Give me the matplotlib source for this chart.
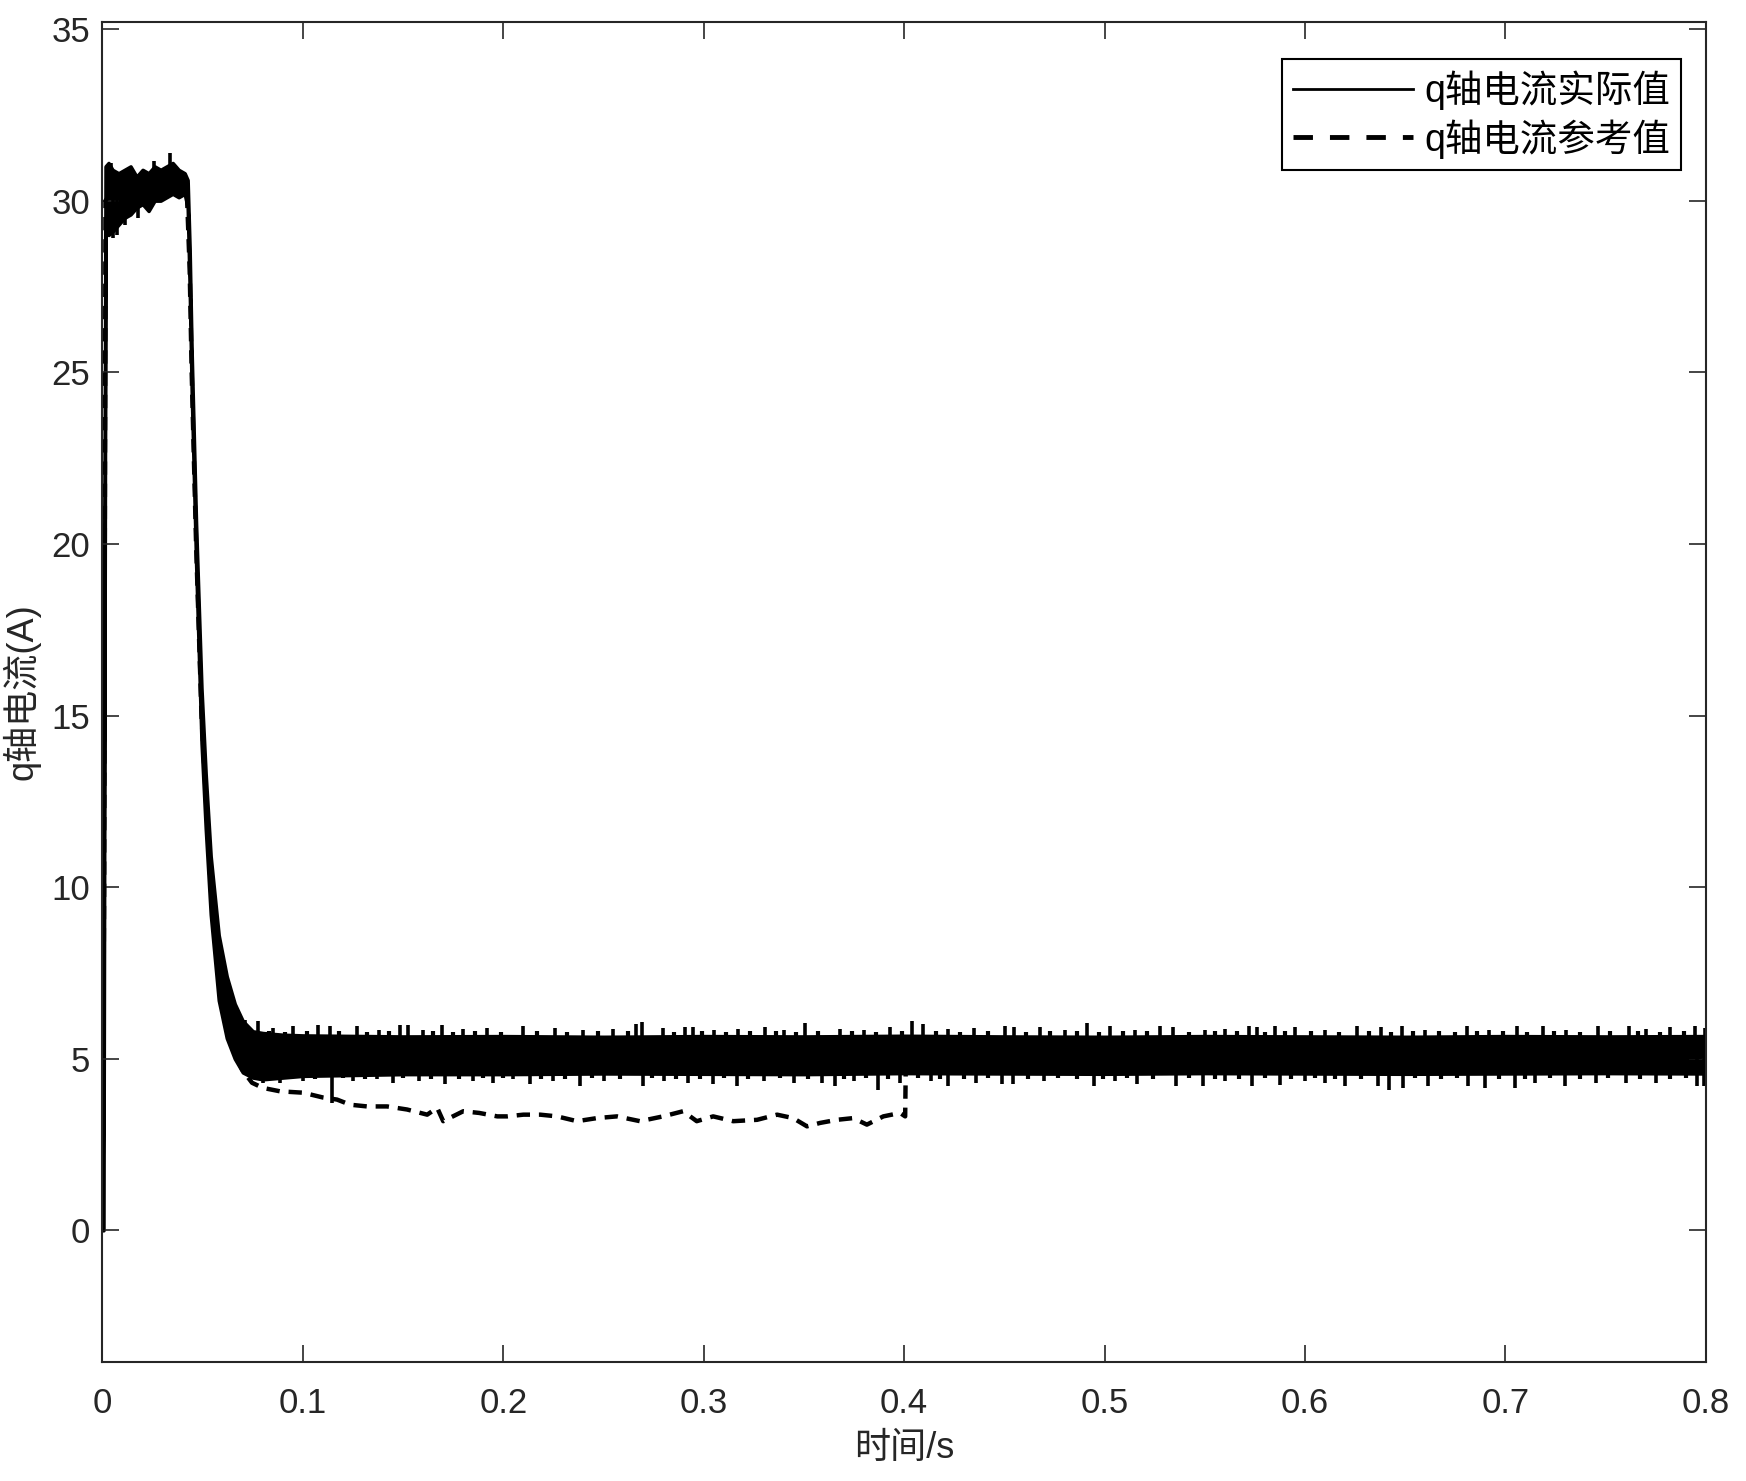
import matplotlib
matplotlib.use("Agg")
import matplotlib.pyplot as plt
import numpy as np
from matplotlib.lines import Line2D

plt.rcParams['font.family'] = ['Liberation Sans', 'Noto Sans CJK SC']

t_act = [0, 0.0005, 0.0015, 0.003, 0.005, 0.008, 0.011, 0.014, 0.017, 0.020,
         0.023, 0.026, 0.029, 0.032, 0.035, 0.038, 0.041, 0.0425, 0.0435,
         0.0445, 0.0467, 0.0494, 0.0515, 0.054, 0.058, 0.062, 0.066, 0.070,
         0.075, 0.080, 0.090, 0.10, 0.15, 0.20, 0.25, 0.30, 0.35, 0.40, 0.45,
         0.50, 0.55, 0.60, 0.65, 0.70, 0.75, 0.80]
i_act_hi = [0, 8, 31.0, 31.1, 30.9, 30.8, 30.9, 31.0, 30.7, 30.9,
            30.8, 31.0, 30.9, 31.0, 31.1, 30.9, 30.8, 30.6, 28.6,
            25.6, 20.6, 15.8, 13.3, 10.9, 8.6, 7.4, 6.6, 6.1,
            5.8, 5.75, 5.7, 5.68, 5.65, 5.66, 5.64, 5.66, 5.65, 5.67, 5.65,
            5.64, 5.66, 5.65, 5.64, 5.66, 5.65, 5.66]
i_act_lo = [0, 0, 29.5, 29.0, 29.1, 29.3, 29.5, 29.6, 29.8, 29.9,
            29.7, 30.0, 30.0, 30.1, 30.2, 30.1, 30.2, 29.8, 27.4,
            24.4, 19.4, 14.2, 11.7, 9.2, 6.7, 5.6, 5.0, 4.6,
            4.45, 4.4, 4.45, 4.5, 4.55, 4.55, 4.57, 4.56, 4.55, 4.58, 4.57,
            4.56, 4.58, 4.57, 4.56, 4.57, 4.58, 4.57]

# tall spikes sticking out of the actual-current band
spike_up_t = [0.004, 0.0255, 0.0337, 0.0711, 0.0776, 0.0850, 0.0950, 0.1076,
              0.1136, 0.127, 0.138, 0.1486, 0.1526, 0.160, 0.1695, 0.180,
              0.192, 0.2098, 0.2258, 0.240, 0.2546, 0.266, 0.269, 0.2797,
              0.2907, 0.2947, 0.305, 0.317, 0.3306, 0.340, 0.3506, 0.368,
              0.380, 0.393, 0.4038, 0.4095, 0.422, 0.435, 0.4503, 0.455,
              0.4676, 0.480, 0.491, 0.5026, 0.515, 0.5276, 0.534, 0.550,
              0.560, 0.5719, 0.576, 0.585, 0.595, 0.610, 0.626, 0.6377,
              0.6483, 0.660, 0.6807, 0.692, 0.7056, 0.7189, 0.730, 0.7462,
              0.7617, 0.770, 0.782, 0.7945, 0.7996]
spike_up_v = [31.1, 31.15, 31.4, 6.14, 6.1, 5.9, 5.95, 5.99,
              5.96, 5.96, 5.85, 5.99, 5.97, 5.85, 5.99, 5.88,
              5.9, 5.96, 5.9, 5.85, 5.88, 6.02, 6.07, 5.9,
              5.92, 5.91, 5.85, 5.88, 5.92, 5.85, 6.04, 5.87,
              5.85, 5.93, 6.1, 6.02, 5.88, 5.9, 5.95, 5.93,
              5.93, 5.85, 6.05, 5.95, 5.85, 5.95, 5.93, 5.85,
              5.88, 5.94, 5.93, 5.95, 5.93, 5.85, 5.95, 5.93,
              5.95, 5.85, 5.95, 5.85, 5.95, 5.95, 5.85, 5.95,
              5.95, 5.87, 5.93, 5.95, 5.9]
spike_dn_t = [0.005, 0.0072, 0.011, 0.0175, 0.0801, 0.0886, 0.1000, 0.1146,
              0.125, 0.137, 0.145, 0.158, 0.171, 0.185, 0.195, 0.205,
              0.2134, 0.225, 0.2383, 0.250, 0.2696, 0.280, 0.292, 0.3048,
              0.3165, 0.330, 0.345, 0.359, 0.3655, 0.375, 0.387, 0.398,
              0.4133, 0.422, 0.436, 0.449, 0.4545, 0.470, 0.4945, 0.505,
              0.5161, 0.5356, 0.5491, 0.560, 0.5737, 0.5876, 0.600, 0.610,
              0.620, 0.6366, 0.6417, 0.6488, 0.6614, 0.6814, 0.6899, 0.7049,
              0.715, 0.7298, 0.745, 0.760, 0.775, 0.7957, 0.799]
spike_dn_v = [28.9, 29.0, 29.3, 29.5, 4.3, 4.3, 4.35, 3.72,
              4.35, 4.4, 4.3, 4.35, 4.25, 4.35, 4.3, 4.4,
              4.25, 4.35, 4.2, 4.35, 4.2, 4.35, 4.3, 4.25,
              4.2, 4.35, 4.3, 4.28, 4.2, 4.35, 4.1, 4.3,
              4.35, 4.2, 4.3, 4.25, 4.25, 4.35, 4.2, 4.35,
              4.25, 4.2, 4.2, 4.35, 4.2, 4.22, 4.35, 4.3,
              4.2, 4.2, 4.1, 4.15, 4.2, 4.2, 4.15, 4.15,
              4.3, 4.2, 4.3, 4.3, 4.3, 4.2, 4.2]

# shorter spikes that make the band edge ragged
rag_up_t = [0.083, 0.091, 0.102, 0.118, 0.132, 0.143, 0.165, 0.175, 0.186,
            0.199, 0.217, 0.232, 0.247, 0.262, 0.285, 0.299, 0.311, 0.323,
            0.336, 0.346, 0.357, 0.374, 0.386, 0.399, 0.416, 0.428, 0.442,
            0.461, 0.473, 0.486, 0.497, 0.509, 0.521, 0.542, 0.555, 0.566,
            0.580, 0.590, 0.603, 0.617, 0.632, 0.643, 0.654, 0.667, 0.675,
            0.686, 0.699, 0.711, 0.724, 0.737, 0.752, 0.766, 0.777, 0.789]
rag_up_v = [5.8, 5.78, 5.82, 5.8, 5.78, 5.8, 5.82, 5.78, 5.8,
            5.79, 5.81, 5.78, 5.8, 5.82, 5.78, 5.8, 5.79, 5.81,
            5.8, 5.78, 5.82, 5.8, 5.78, 5.8, 5.81, 5.79, 5.8,
            5.78, 5.82, 5.8, 5.79, 5.81, 5.8, 5.78, 5.82, 5.8,
            5.78, 5.8, 5.81, 5.79, 5.8, 5.78, 5.82, 5.8, 5.78,
            5.8, 5.81, 5.79, 5.8, 5.78, 5.82, 5.8, 5.79, 5.81]
rag_dn_t = [0.084, 0.094, 0.106, 0.120, 0.131, 0.150, 0.164, 0.178, 0.190,
            0.200, 0.219, 0.231, 0.244, 0.258, 0.274, 0.286, 0.298, 0.310,
            0.322, 0.338, 0.352, 0.370, 0.381, 0.392, 0.407, 0.418, 0.430,
            0.442, 0.462, 0.477, 0.486, 0.499, 0.511, 0.524, 0.542, 0.555,
            0.567, 0.580, 0.593, 0.605, 0.615, 0.628, 0.655, 0.668, 0.676,
            0.697, 0.710, 0.722, 0.737, 0.751, 0.767, 0.782, 0.790]
rag_dn_v = [4.42, 4.44, 4.4, 4.43, 4.42, 4.44, 4.4, 4.42, 4.43,
            4.44, 4.4, 4.42, 4.43, 4.41, 4.44, 4.42, 4.4, 4.43,
            4.42, 4.44, 4.4, 4.42, 4.43, 4.41, 4.44, 4.42, 4.4,
            4.43, 4.42, 4.44, 4.4, 4.42, 4.43, 4.41, 4.44, 4.42,
            4.4, 4.43, 4.42, 4.44, 4.4, 4.42, 4.43, 4.41, 4.44,
            4.42, 4.4, 4.43, 4.42, 4.44, 4.4, 4.42, 4.43]

# q-axis reference current
t_ref = [0, 0.0008, 0.0015, 0.004, 0.008, 0.012, 0.016, 0.020, 0.024, 0.028,
         0.032, 0.036, 0.040, 0.042, 0.0435, 0.0445, 0.0467, 0.0494, 0.054,
         0.058, 0.062, 0.065, 0.0697, 0.0746, 0.080, 0.0886, 0.1001, 0.110,
         0.117, 0.1236, 0.132, 0.142, 0.152, 0.162, 0.167, 0.170, 0.180,
         0.188, 0.197, 0.2019, 0.210, 0.2184, 0.2268, 0.2368, 0.2467, 0.2567,
         0.2682, 0.2797, 0.2897, 0.2965, 0.3047, 0.3147, 0.3266, 0.3366,
         0.3446, 0.3515, 0.3581, 0.3665, 0.3746, 0.3814, 0.3896, 0.398,
         0.4005, 0.4008, 0.4012, 0.45, 0.50, 0.55, 0.60, 0.65, 0.70, 0.75, 0.80]
i_ref = [0, 10, 30.0, 30.2, 30.1, 30.3, 30.2, 30.4, 30.3, 30.4,
         30.5, 30.4, 30.5, 30.4, 28.0, 25.0, 20.0, 15.0, 10.0,
         7.6, 6.4, 5.36, 4.68, 4.30, 4.15, 4.05, 4.01, 3.87,
         3.81, 3.66, 3.61, 3.61, 3.52, 3.37, 3.57, 3.18, 3.47,
         3.42, 3.32, 3.32, 3.37, 3.37, 3.32, 3.18, 3.27, 3.32,
         3.18, 3.32, 3.47, 3.18, 3.32, 3.18, 3.22, 3.37,
         3.27, 3.03, 3.13, 3.22, 3.27, 3.08, 3.32, 3.42,
         3.32, 4.78, 5.0, 5.05, 5.0, 5.1, 5.0, 5.05, 5.1, 5.0, 5.05]

band_mid = 5.1

fig = plt.figure(figsize=(17.46, 14.81), dpi=100)
ax = fig.add_axes([0.0587, 0.0805, 0.9183, 0.9045])

ink = '#262626'

# actual current (solid)
ax.fill_between(t_act, i_act_lo, i_act_hi, color='black', linewidth=2.5, edgecolor='black')
up_base = [30.2 if t < 0.042 else band_mid for t in spike_up_t]
dn_base = [30.2 if t < 0.042 else band_mid for t in spike_dn_t]
ax.vlines(spike_up_t, up_base, spike_up_v, color='black', linewidth=2.6)
ax.vlines(spike_dn_t, dn_base, spike_dn_v, color='black', linewidth=2.6)
ax.vlines(rag_up_t, band_mid, rag_up_v, color='black', linewidth=3)
ax.vlines(rag_dn_t, band_mid, rag_dn_v, color='black', linewidth=3)

# reference current (dashed)
ax.plot(t_ref, i_ref, color='black', linewidth=3.2, linestyle=(0, (3, 2)))

ax.set_xlim(0, 0.8)
ax.set_ylim(-3.83, 35.2)
ax.set_xticks(np.arange(0, 0.81, 0.1))
ax.set_xticklabels(['0', '0.1', '0.2', '0.3', '0.4', '0.5', '0.6', '0.7', '0.8'])
ax.set_yticks(np.arange(0, 36, 5))

ax.tick_params(direction='in', top=True, right=True, length=12, width=1.2,
               labelsize=25, colors=ink)
ax.tick_params(axis='x', pad=18)
ax.tick_params(axis='y', pad=9)
for s in ax.spines.values():
    s.set_color(ink)
    s.set_linewidth(1.5)

ax.set_xlabel('时间/s', fontsize=26, color=ink, labelpad=8)
ax.set_ylabel('q轴电流(A)', fontsize=26, color=ink, labelpad=8)

handles = [Line2D([], [], color='black', linewidth=2),
           Line2D([], [], color='black', linewidth=3.5, linestyle=(0, (4, 3.5)))]
leg = ax.legend(handles, ['q轴电流实际值', 'q轴电流参考值'], loc='upper right',
                bbox_to_anchor=(0.9847, 0.9726), fontsize=27, frameon=True,
                fancybox=False, framealpha=1, edgecolor='black',
                handlelength=3.2, handletextpad=0.3, borderpad=0.3,
                labelspacing=0.25, borderaxespad=0)
leg.get_frame().set_linewidth(1.5)

fig.savefig('out.png', dpi=100)
